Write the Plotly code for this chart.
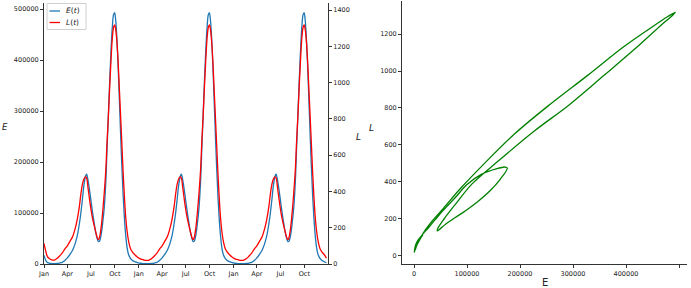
import datetime as dt
import plotly.graph_objects as go

# ---------------- data ----------------
# day of year of each sample
days = [0, 6, 12, 20, 30, 40, 50, 60, 70, 80, 90, 100, 110, 120, 128, 136, 142, 148,
        154, 160, 164, 170, 176, 182, 188, 194, 200, 206, 210, 214, 220, 226, 232, 238,
        243, 248, 253, 258, 263, 268, 272, 276, 280, 285, 290, 295, 300, 305, 310, 315,
        320, 326, 333, 341, 350, 358]

E_year1 = [17000, 8000, 3500, 1500, 900, 800, 1000, 1800, 3200, 7000, 12000, 19000, 27000,
           40000, 55000, 78000, 100000, 127000, 155000, 172000, 176000, 163000, 143000,
           120000, 98000, 78000, 60000, 48000, 44000, 45000, 57000, 80000, 110000, 160000,
           227000, 292000, 358000, 417000, 463000, 489000, 493000, 479000, 450000, 395000,
           327000, 257000, 190000, 133000, 88000, 55000, 32500, 18000, 11000, 7000, 4500, 3000]
E_year2 = [2200, 1500, 1100, 900, 800, 800, 1000, 1800, 3200, 7000, 12000, 19000, 27000,
           40000, 55000, 78000, 100000, 127000, 155000, 172000, 176000, 163000, 143000,
           120000, 98000, 78000, 60000, 48000, 44000, 45000, 57000, 80000, 110000, 160000,
           227000, 292000, 358000, 417000, 463000, 489000, 493000, 479000, 450000, 395000,
           327000, 257000, 190000, 133000, 88000, 55000, 32500, 18000, 11000, 7000, 4500, 3000]
E_year3 = [2200, 1500, 1100, 900, 800, 800, 1000, 1800, 3200, 7000, 12000, 19000, 27000,
           40000, 55000, 78000, 100000, 127000, 155000, 172000, 176000, 163000, 143000,
           120000, 98000, 78000, 60000, 48000, 44000, 45000, 57000, 80000, 110000, 160000,
           227000, 292000, 358000, 417000, 463000, 489000, 493000, 479000, 450000, 395000,
           327000, 257000, 190000, 133000, 88000, 55000, 32500, 18000, 11000, 7000, 4500, 2500]

L_year1 = [114, 75, 45, 30, 23, 22, 30, 44, 60, 82, 100, 125, 150, 195, 245, 315, 385, 440,
           470, 480, 474, 415, 350, 292, 245, 207, 172, 142, 134, 148, 200, 285, 390, 515,
           675, 815, 975, 1120, 1240, 1305, 1318, 1295, 1240, 1130, 975, 820, 660, 500, 365,
           255, 182, 125, 86, 66, 51, 40]
L_year2 = [33, 28, 25, 22, 20, 22, 30, 44, 60, 82, 100, 125, 150, 195, 245, 315, 385, 440,
           470, 480, 474, 415, 350, 292, 245, 207, 172, 142, 134, 148, 200, 285, 390, 515,
           675, 815, 975, 1120, 1240, 1305, 1318, 1295, 1240, 1130, 975, 820, 660, 500, 365,
           255, 182, 125, 86, 66, 51, 40]
L_year3 = [33, 28, 25, 22, 20, 22, 30, 44, 60, 82, 100, 125, 150, 195, 245, 315, 385, 440,
           470, 480, 474, 415, 350, 292, 245, 207, 172, 142, 134, 148, 200, 285, 390, 515,
           675, 815, 975, 1120, 1240, 1305, 1318, 1295, 1240, 1130, 975, 820, 660, 500, 365,
           255, 182, 125, 86, 66, 51, 32]

years = [2021, 2022, 2023]

left_y_ticks = [0, 100000, 200000, 300000, 400000, 500000]
right_y_ticks = [0, 200, 400, 600, 800, 1000, 1200, 1400]
phase_x_ticks = [0, 100000, 200000, 300000, 400000, 500000]
phase_y_ticks = [0, 200, 400, 600, 800, 1000, 1200]

# ---------------- assemble series ----------------
t, E, L = [], [], []
for yr, ev, lv in zip(years, [E_year1, E_year2, E_year3], [L_year1, L_year2, L_year3]):
    base = dt.date(yr, 1, 1)
    for d, e, l in zip(days, ev, lv):
        t.append(base + dt.timedelta(days=d))
        E.append(e)
        L.append(l)

W, H = 691, 288
def fx(px):
    return px / W
def fy(py):
    return 1 - py / H

BLUE = "#1f77b4"
RED = "#ff0000"
GREEN = "#008000"
FONT = "DejaVu Sans"
TXT = "#222222"
TICKFONT = dict(family=FONT, size=6.5, color=TXT)

fig = go.Figure()
fig.add_trace(go.Scatter(x=t, y=E, mode="lines", line=dict(color=BLUE, width=1.3, shape="spline"),
                         showlegend=False, xaxis="x", yaxis="y"))
fig.add_trace(go.Scatter(x=t, y=L, mode="lines", line=dict(color=RED, width=1.3, shape="spline"),
                         showlegend=False, xaxis="x", yaxis="y2"))
fig.add_trace(go.Scatter(x=E, y=L, mode="lines", line=dict(color=GREEN, width=1.3, shape="spline"),
                         showlegend=False, xaxis="x2", yaxis="y3"))

axis_common = dict(showgrid=False, zeroline=False, showline=True, linecolor="#333", linewidth=1,
                   ticks="outside", ticklen=3, tickwidth=1, tickcolor="#333", tickfont=TICKFONT,
                   automargin=False, fixedrange=True)

fig.update_layout(
    width=W, height=H, margin=dict(l=0, r=0, t=0, b=0, autoexpand=False),
    paper_bgcolor="white", plot_bgcolor="white",
    font=dict(family=FONT),
    showlegend=False,
    hovermode=False,
    xaxis=dict(domain=[fx(44), fx(328)], type="date",
               range=[dt.date(2021, 1, 1), dt.date(2023, 12, 31)],
               tickformat="%b", dtick="M3", tick0="2021-01-01", anchor="y", **axis_common),
    yaxis=dict(domain=[fy(264), fy(3)], range=[0, 511765], tickvals=left_y_ticks,
               ticktext=[str(v) for v in left_y_ticks], anchor="x", **axis_common),
    yaxis2=dict(domain=[fy(264), fy(3)], range=[0, 1438.6], tickvals=right_y_ticks,
                ticktext=[str(v) for v in right_y_ticks], overlaying="y", side="right",
                anchor="x", **axis_common),
    xaxis2=dict(domain=[fx(402), fx(687)], range=[-22642, 515094], tickvals=phase_x_ticks,
                ticktext=[str(v) for v in phase_x_ticks], anchor="y3", **axis_common),
    yaxis3=dict(domain=[fy(264), fy(1)], range=[-45, 1379], tickvals=phase_y_ticks,
                ticktext=[str(v) for v in phase_y_ticks], anchor="x2", **axis_common),
)

# legend drawn by hand (matplotlib style)
fig.add_shape(type="rect", xref="paper", yref="paper", x0=fx(47), x1=fx(86), y0=fy(29.5), y1=fy(3.5),
              line=dict(color="#d0d0d0", width=1), fillcolor="rgba(255,255,255,0.8)", layer="above")
fig.add_shape(type="line", xref="paper", yref="paper", x0=fx(49.5), x1=fx(60), y0=fy(11), y1=fy(11),
              line=dict(color=BLUE, width=1.3), layer="above")
fig.add_shape(type="line", xref="paper", yref="paper", x0=fx(49.5), x1=fx(60), y0=fy(22.5), y1=fy(22.5),
              line=dict(color=RED, width=1.3), layer="above")

ann = [
    dict(x=fx(63.5), y=fy(11), text="<i>E</i>(<i>t</i>)", xanchor="left",
         font=dict(family=FONT, size=7.5, color=TXT)),
    dict(x=fx(63.5), y=fy(22.5), text="<i>L</i>(<i>t</i>)", xanchor="left",
         font=dict(family=FONT, size=7.5, color=TXT)),
    dict(x=fx(5), y=fy(127), text="<i>E</i>", xanchor="center",
         font=dict(family=FONT, size=8.5, color=TXT)),
    dict(x=fx(358), y=fy(137), text="<i>L</i>", xanchor="center",
         font=dict(family=FONT, size=9, color=TXT)),
    dict(x=fx(372), y=fy(128), text="<i>L</i>", xanchor="center",
         font=dict(family=FONT, size=9, color=TXT)),
    dict(x=fx(545), y=fy(282), text="E", xanchor="center",
         font=dict(family=FONT, size=10, color=TXT)),
]
for a in ann:
    fig.add_annotation(xref="paper", yref="paper", showarrow=False, yanchor="middle", **a)

# remove the browser's default page margin so the figure sits at the window's corner
fig.write_html("out.html", config={"displayModeBar": False, "staticPlot": True},
               post_script="document.body.style.margin='0px';")
